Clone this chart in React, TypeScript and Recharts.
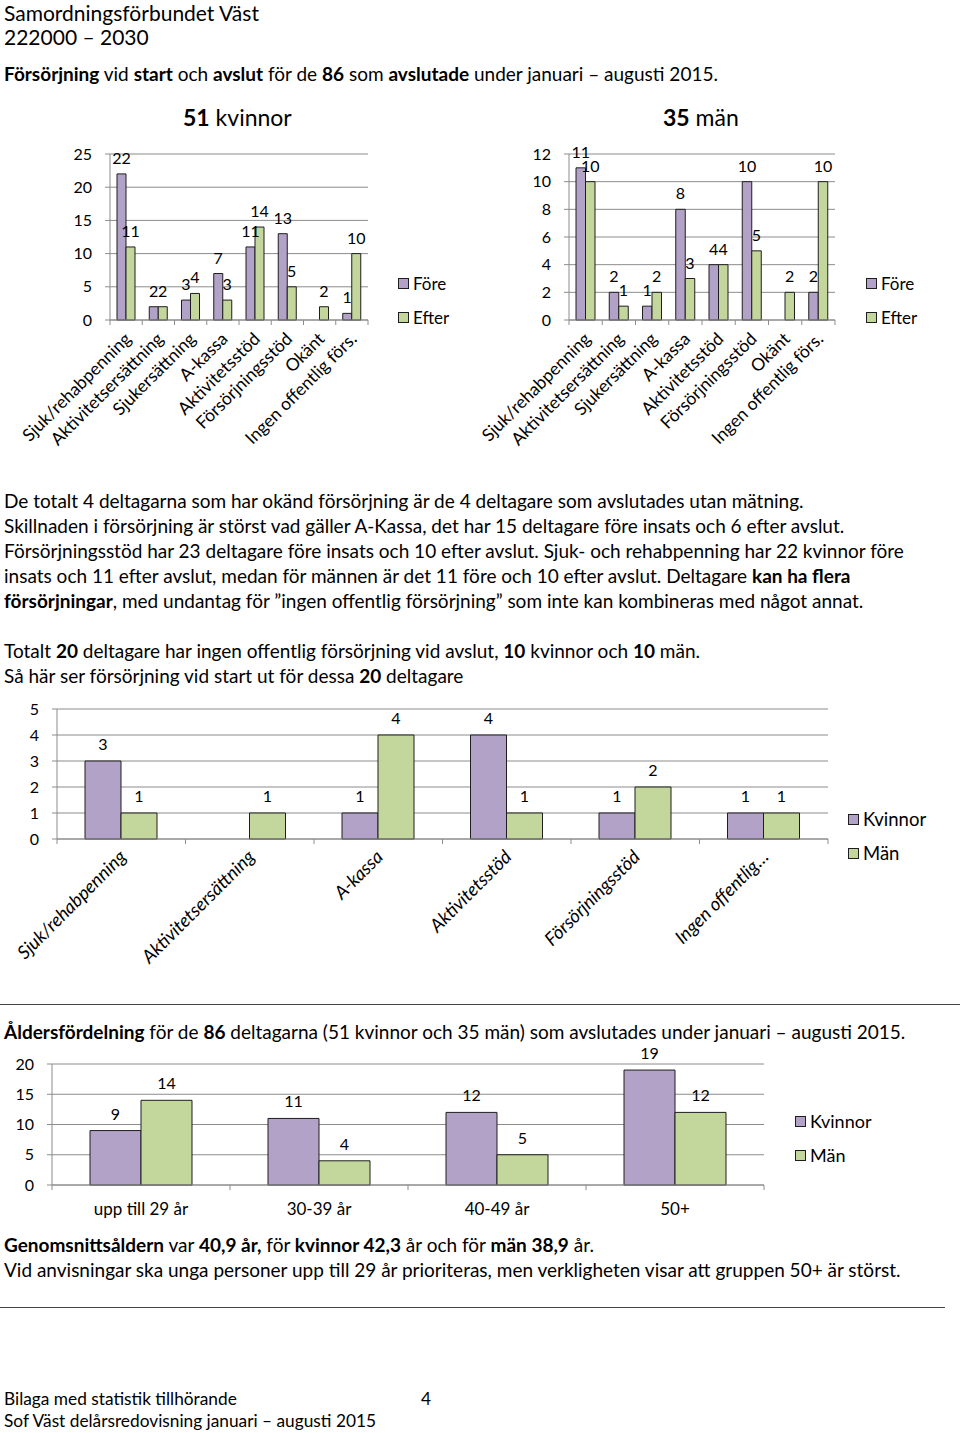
import React from 'react';
import { BarChart, Bar, XAxis, YAxis, CartesianGrid, LabelList } from 'recharts';

const FONT = 'Lato, "Open Sans", sans-serif';
const PURPLE = '#b3a2c7';
const GREEN = '#c3d69b';
const EDGE = '#1e1e1e';
const GRID = '#8c8c8c';

const supportCategories = ['Sjuk/rehabpenning', 'Aktivitetsersättning', 'Sjukersättning', 'A-kassa', 'Aktivitetsstöd', 'Försörjningsstöd', 'Okänt', 'Ingen offentlig förs.'];
const womenBefore = [22, 2, 3, 7, 11, 13, 0, 1];
const womenAfter = [11, 2, 4, 3, 14, 5, 2, 10];
const menBefore = [11, 2, 1, 8, 4, 10, 0, 2];
const menAfter = [10, 1, 2, 3, 4, 5, 2, 10];
const womenTicks = [0, 5, 10, 15, 20, 25];
const menTicks = [0, 2, 4, 6, 8, 10, 12];

const noSupportCategories = ['Sjuk/rehabpenning', 'Aktivitetsersättning', 'A-kassa', 'Aktivitetsstöd', 'Försörjningsstöd', 'Ingen offentlig…'];
const noSupportWomen = [3, 0, 1, 4, 1, 1];
const noSupportMen = [1, 1, 4, 1, 2, 1];
const noSupportTicks = [0, 1, 2, 3, 4, 5];

const ageCategories = ['upp till 29 år', '30-39 år', '40-49 år', '50+'];
const ageWomen = [9, 11, 12, 19];
const ageMen = [14, 4, 5, 12];
const ageTicks = [0, 5, 10, 15, 20];

const womenData = supportCategories.map((c, i) => ({ name: c, a: womenBefore[i], b: womenAfter[i] }));
const menData = supportCategories.map((c, i) => ({ name: c, a: menBefore[i], b: menAfter[i] }));
const noSupportData = noSupportCategories.map((c, i) => ({ name: c, a: noSupportWomen[i], b: noSupportMen[i] }));
const ageData = ageCategories.map((c, i) => ({ name: c, a: ageWomen[i], b: ageMen[i] }));

const hideZero = (v: any) => (v === 0 ? '' : v);

function makeTick(opts: { half: number; count: number; dx: number; dy: number; size: number; italic?: boolean; rotate: boolean }) {
  return (props: any) => {
    const { x, y, payload, index } = props;
    const lines = [
      <line key="l" x1={x - opts.half} x2={x - opts.half} y1={y} y2={y + 5} stroke={GRID} />,
    ];
    if (index === opts.count - 1) {
      lines.push(<line key="r" x1={x + opts.half} x2={x + opts.half} y1={y} y2={y + 5} stroke={GRID} />);
    }
    const tx = x + opts.dx;
    const ty = y + opts.dy;
    return (
      <g>
        {lines}
        {opts.rotate ? (
          <text x={tx} y={ty} textAnchor="end" fontSize={opts.size} fontFamily={FONT} fontStyle={opts.italic ? 'italic' : 'normal'} fill="#000" transform={`rotate(-45 ${tx} ${ty})`}>
            {payload.value}
          </text>
        ) : (
          <text x={tx} y={ty} textAnchor="middle" fontSize={opts.size} fontFamily={FONT} fill="#000">
            {payload.value}
          </text>
        )}
      </g>
    );
  };
}

type ChartProps = {
  left: number;
  top: number;
  width: number;
  height: number;
  data: any[];
  ticks: number[];
  yAxisWidth: number;
  marginRight: number;
  marginTop: number;
  xAxisHeight: number;
  barSize: number;
  tick: any;
  fontSize: number;
  labelOffset: number;
};

function GroupChart(p: ChartProps) {
  const labelStyle = { fontFamily: FONT, fontSize: p.fontSize, fill: '#000' };
  return (
    <div style={{ position: 'absolute', left: p.left, top: p.top }}>
      <BarChart
        width={p.width}
        height={p.height}
        data={p.data}
        margin={{ top: p.marginTop, right: p.marginRight, bottom: 0, left: 0 }}
        barGap={0}
        barSize={p.barSize}
      >
        <CartesianGrid vertical={false} stroke={GRID} strokeWidth={1} />
        <XAxis
          dataKey="name"
          interval={0}
          height={p.xAxisHeight}
          tickLine={false}
          tickSize={0}
          tickMargin={0}
          axisLine={{ stroke: GRID }}
          tick={p.tick}
        />
        <YAxis
          width={p.yAxisWidth}
          domain={[p.ticks[0], p.ticks[p.ticks.length - 1]]}
          ticks={p.ticks}
          interval={0}
          axisLine={{ stroke: GRID }}
          tickLine={{ stroke: GRID }}
          tickSize={5}
          tickMargin={13}
          tick={{ ...labelStyle, fontSize: p.fontSize }}
        />
        <Bar dataKey="a" fill={PURPLE} stroke={EDGE} strokeWidth={1} isAnimationActive={false}>
          <LabelList dataKey="a" position="top" offset={p.labelOffset} formatter={hideZero} style={labelStyle} />
        </Bar>
        <Bar dataKey="b" fill={GREEN} stroke={EDGE} strokeWidth={1} isAnimationActive={false}>
          <LabelList dataKey="b" position="top" offset={p.labelOffset} formatter={hideZero} style={labelStyle} />
        </Bar>
      </BarChart>
    </div>
  );
}

function LegendBox({ left, top, labels, fontSize }: { left: number; top: number; labels: string[]; fontSize: number }) {
  const colors = [PURPLE, GREEN];
  return (
    <>
      {labels.map((l, i) => (
        <div key={l} style={{ position: 'absolute', left, top: top + i * 34 - 11, height: 22, display: 'flex', alignItems: 'center', fontFamily: FONT, fontSize, whiteSpace: 'nowrap' }}>
          <span style={{ display: 'inline-block', width: 9, height: 9, background: colors[i], border: `1px solid ${EDGE}`, marginRight: 4 }} />
          <span>{l}</span>
        </div>
      ))}
    </>
  );
}

function Line({ y, children, size = 19, left = 4, h = 22 }: { y: number; children: React.ReactNode; size?: number; left?: number; h?: number }) {
  return (
    <div style={{ position: 'absolute', left, top: y - h / 2, height: h, lineHeight: `${h}px`, fontFamily: FONT, fontSize: size, whiteSpace: 'nowrap', color: '#000' }}>
      {children}
    </div>
  );
}

export default function App() {
  const topTickW = makeTick({ half: 258 / 16, count: 8, dx: 6, dy: 20, size: 17.5, rotate: true });
  const topTickM = makeTick({ half: 266 / 16, count: 8, dx: 6, dy: 20, size: 17.5, rotate: true });
  const midTick = makeTick({ half: 771 / 12, count: 6, dx: 6, dy: 19, size: 18.5, italic: true, rotate: true });
  const ageTick = makeTick({ half: 712 / 8, count: 4, dx: 0, dy: 30, size: 17, rotate: false });
  return (
    <div style={{ position: 'absolute', left: 0, top: 0, width: 960, height: 1433, background: '#fff', overflow: 'hidden', fontFamily: FONT }}>
      <Line y={13} size={21} h={26}>Samordningsförbundet Väst</Line>
      <Line y={37} size={21}>222000 – 2030</Line>
      <Line y={74}>
        <b>Försörjning</b> vid <b>start</b> och <b>avslut</b> för de <b>86</b> som <b>avslutade</b> under januari – augusti 2015.
      </Line>
      <Line y={117} size={23} left={183}>
        <b>51</b> kvinnor
      </Line>
      <Line y={117} size={23} left={663}>
        <b>35</b> män
      </Line>

      <GroupChart left={0} top={140} width={460} height={330} data={womenData} ticks={womenTicks} yAxisWidth={110} marginRight={92} marginTop={14} xAxisHeight={150} barSize={9} tick={topTickW} fontSize={16} labelOffset={10} />
      <LegendBox left={398} top={283} labels={['Före', 'Efter']} fontSize={17} />

      <GroupChart left={460} top={140} width={500} height={330} data={menData} ticks={menTicks} yAxisWidth={109} marginRight={125} marginTop={14} xAxisHeight={150} barSize={9.5} tick={topTickM} fontSize={16} labelOffset={10} />
      <LegendBox left={866} top={283} labels={['Före', 'Efter']} fontSize={17} />

      <Line y={501}>De totalt 4 deltagarna som har okänd försörjning är de 4 deltagare som avslutades utan mätning.</Line>
      <Line y={526}>Skillnaden i försörjning är störst vad gäller A-Kassa, det har 15 deltagare före insats och 6 efter avslut.</Line>
      <Line y={551}>Försörjningsstöd har 23 deltagare före insats och 10 efter avslut. Sjuk- och rehabpenning har 22 kvinnor före</Line>
      <Line y={576}>
        insats och 11 efter avslut, medan för männen är det 11 före och 10 efter avslut. Deltagare <b>kan ha flera</b>
      </Line>
      <Line y={601}>
        <b>försörjningar</b>, med undantag för ”ingen offentlig försörjning” som inte kan kombineras med något annat.
      </Line>
      <Line y={651}>
        Totalt <b>20</b> deltagare har ingen offentlig försörjning vid avslut, <b>10</b> kvinnor och <b>10</b> män.
      </Line>
      <Line y={676}>
        Så här ser försörjning vid start ut för dessa <b>20</b> deltagare
      </Line>

      <GroupChart left={0} top={690} width={960} height={290} data={noSupportData} ticks={noSupportTicks} yAxisWidth={57} marginRight={132} marginTop={19} xAxisHeight={141} barSize={36} tick={midTick} fontSize={16} labelOffset={11} />
      <LegendBox left={848} top={819} labels={['Kvinnor', 'Män']} fontSize={18.5} />

      <div style={{ position: 'absolute', left: 0, top: 1004, width: 960, height: 1, background: '#444' }} />
      <Line y={1032}>
        <b>Åldersfördelning</b> för de <b>86</b> deltagarna (51 kvinnor och 35 män) som avslutades under januari – augusti 2015.
      </Line>

      <GroupChart left={0} top={1040} width={960} height={190} data={ageData} ticks={ageTicks} yAxisWidth={52} marginRight={196} marginTop={24} xAxisHeight={45} barSize={51} tick={ageTick} fontSize={16} labelOffset={11} />
      <LegendBox left={795} top={1121} labels={['Kvinnor', 'Män']} fontSize={18} />

      <Line y={1245}>
        <b>Genomsnittsåldern</b> var <b>40,9 år,</b> för <b>kvinnor 42,3</b> år och för <b>män 38,9</b> år.
      </Line>
      <Line y={1270}>Vid anvisningar ska unga personer upp till 29 år prioriteras, men verkligheten visar att gruppen 50+ är störst.</Line>
      <div style={{ position: 'absolute', left: 0, top: 1307, width: 945, height: 1, background: '#444' }} />

      <Line y={1399} size={17.3}>Bilaga med statistik tillhörande</Line>
      <Line y={1399} size={17.3} left={421}>4</Line>
      <Line y={1421} size={17.3}>Sof Väst delårsredovisning januari – augusti 2015</Line>
    </div>
  );
}
